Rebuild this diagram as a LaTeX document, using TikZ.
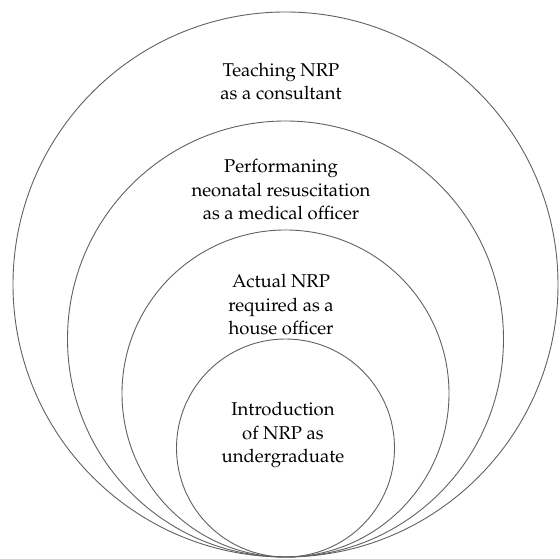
\documentclass[tikz,border=0pt]{standalone}
\usepackage[T1]{fontenc}
\usepackage{mathpazo}
\begin{document}
\begin{tikzpicture}[x=1pt,y=1pt,
  ring/.style={draw=black!62, line width=0.9pt},
  lbl/.style={align=center, font=\fontsize{18.5}{23.5}\selectfont, inner sep=0pt}]
\useasboundingbox (0,0) rectangle (560,559);
\coordinate (base) at (285.5,2);
\node[ring, circle, minimum size=545pt, inner sep=0pt] (c1) at (285.5,274.5) {};
\node[ring, circle, minimum size=436pt, inner sep=0pt] (c2) at (285.5,220) {};
\node[ring, circle, minimum size=327pt, inner sep=0pt] (c3) at (285.5,165.5) {};
\node[ring, circle, minimum size=218pt, inner sep=0pt] (c4) at (285.5,111) {};
\node[lbl] (t1) at (281,477.5) {Teaching NRP\\as a consultant};
\node[lbl] (t2) at (281,369) {Performaning\\neonatal resuscitation\\as a medical officer};
\node[lbl] (t3) at (281,254) {Actual NRP\\required as a\\house officer};
\node[lbl] (t4) at (283,124) {Introduction\\of NRP as\\undergraduate};
\end{tikzpicture}
\end{document}
